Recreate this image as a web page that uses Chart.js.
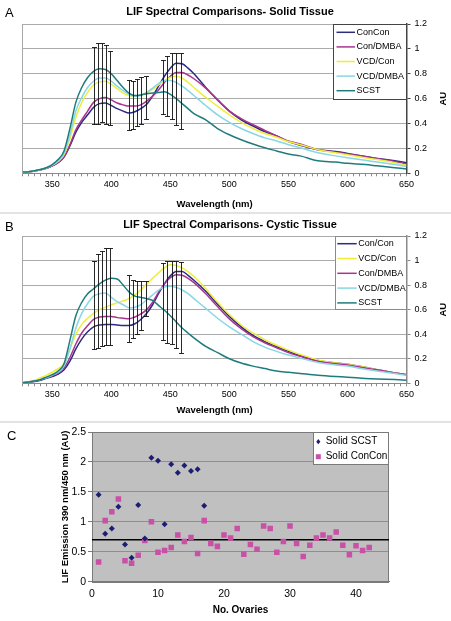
<!DOCTYPE html>
<html><head><meta charset="utf-8">
<script src="https://cdn.jsdelivr.net/npm/chart.js@4.4.1/dist/chart.umd.min.js"></script>
<style>
html,body{margin:0;padding:0;background:#fff;}
body{width:451px;height:621px;position:relative;overflow:hidden;font-family:"Liberation Sans",Arial,sans-serif;}
canvas{position:absolute;left:0;}
.letter{position:absolute;font-size:13px;color:#000;line-height:13px;}
.sep{position:absolute;left:0;width:451px;height:2px;background:#e3e3e3;}
</style></head><body>
<canvas id="cA" style="top:0px" width="451" height="212"></canvas>
<canvas id="cB" style="top:214px" width="451" height="207"></canvas>
<canvas id="cC" style="top:423px" width="451" height="198"></canvas>
<div class="sep" style="top:212px"></div>
<div class="sep" style="top:421px"></div>
<div class="letter" style="left:5px;top:6px">A</div>
<div class="letter" style="left:5px;top:220px">B</div>
<div class="letter" style="left:7px;top:429px">C</div>
<script>
// ---------- DATA ----------
const wavelengths = [325,330,335,340,345,350,355,360,365,370,375,380,385,390,395,400,405,410,415,420,425,430,435,440,445,450,455,460,465,470,480,490,500,510,520,530,540,550,560,575,590,600,615,625,640,650];

// Panel A: Solid tissue
const solidLabels = ['ConCon','Con/DMBA','VCD/Con','VCD/DMBA','SCST'];
const solidConCon  = [0.01,0.012,0.018,0.028,0.04,0.06,0.085,0.13,0.22,0.33,0.41,0.47,0.53,0.56,0.565,0.545,0.52,0.50,0.485,0.495,0.52,0.555,0.62,0.70,0.78,0.845,0.885,0.88,0.845,0.80,0.69,0.59,0.50,0.43,0.38,0.335,0.30,0.255,0.225,0.19,0.175,0.16,0.135,0.12,0.10,0.085];
const solidConDMBA = [0.01,0.012,0.018,0.028,0.04,0.06,0.088,0.135,0.23,0.35,0.43,0.50,0.57,0.60,0.61,0.59,0.565,0.55,0.54,0.54,0.55,0.58,0.62,0.67,0.73,0.78,0.81,0.81,0.79,0.76,0.685,0.59,0.50,0.44,0.39,0.345,0.30,0.26,0.235,0.19,0.17,0.155,0.135,0.12,0.095,0.075];
const solidVCDCon  = [0.01,0.013,0.02,0.03,0.043,0.065,0.095,0.15,0.28,0.45,0.57,0.65,0.71,0.735,0.74,0.715,0.68,0.645,0.625,0.62,0.63,0.645,0.675,0.71,0.745,0.77,0.78,0.765,0.73,0.69,0.61,0.54,0.47,0.41,0.36,0.32,0.29,0.255,0.23,0.19,0.165,0.15,0.125,0.11,0.085,0.065];
const solidVCDDMBA = [0.01,0.013,0.02,0.03,0.043,0.065,0.10,0.16,0.31,0.50,0.61,0.69,0.74,0.765,0.765,0.74,0.70,0.665,0.635,0.62,0.625,0.65,0.685,0.72,0.745,0.745,0.73,0.70,0.665,0.625,0.545,0.47,0.41,0.36,0.32,0.285,0.26,0.23,0.205,0.165,0.14,0.125,0.105,0.09,0.07,0.055];
const solidSCST    = [0.01,0.013,0.02,0.03,0.045,0.07,0.11,0.18,0.36,0.57,0.69,0.77,0.82,0.84,0.835,0.80,0.745,0.69,0.645,0.625,0.63,0.64,0.645,0.65,0.655,0.635,0.60,0.56,0.52,0.48,0.43,0.36,0.31,0.27,0.235,0.205,0.18,0.155,0.14,0.10,0.09,0.08,0.07,0.06,0.045,0.035];
const solidErrX  = [385,388.5,392,395.5,399,415,418.5,422,425.5,429,444,447.5,451.5,455,459];
const solidErrLo = [0.40,0.40,0.41,0.40,0.39,0.35,0.36,0.38,0.40,0.435,0.48,0.46,0.44,0.39,0.36];
const solidErrHi = [1.015,1.047,1.05,1.03,0.98,0.75,0.745,0.76,0.77,0.78,0.91,0.945,0.965,0.97,0.97];

// Panel B: Cystic tissue
const cysticLabels = ['Con/Con','VCD/Con','Con/DMBA','VCD/DMBA','SCST'];
const cysticConCon  = [0.005,0.01,0.015,0.025,0.04,0.055,0.075,0.11,0.18,0.28,0.36,0.42,0.46,0.475,0.48,0.48,0.475,0.47,0.47,0.485,0.52,0.57,0.64,0.73,0.81,0.875,0.91,0.91,0.88,0.84,0.75,0.645,0.545,0.46,0.39,0.34,0.30,0.26,0.225,0.185,0.165,0.155,0.13,0.11,0.085,0.07];
const cysticVCDCon  = [0.005,0.012,0.025,0.045,0.065,0.09,0.12,0.16,0.28,0.40,0.48,0.53,0.57,0.60,0.62,0.64,0.655,0.67,0.69,0.72,0.76,0.81,0.855,0.90,0.94,0.965,0.96,0.94,0.91,0.87,0.77,0.66,0.56,0.475,0.41,0.355,0.31,0.27,0.235,0.19,0.165,0.155,0.13,0.11,0.085,0.07];
const cysticConDMBA = [0.005,0.01,0.018,0.03,0.045,0.062,0.085,0.125,0.21,0.32,0.41,0.47,0.52,0.54,0.545,0.545,0.535,0.53,0.525,0.54,0.565,0.60,0.66,0.74,0.81,0.86,0.885,0.88,0.855,0.82,0.73,0.625,0.525,0.445,0.38,0.33,0.29,0.25,0.22,0.18,0.16,0.15,0.125,0.11,0.085,0.07];
const cysticVCDDMBA = [0.005,0.01,0.018,0.03,0.045,0.065,0.09,0.14,0.28,0.45,0.57,0.65,0.71,0.73,0.735,0.70,0.665,0.64,0.615,0.62,0.64,0.68,0.72,0.76,0.785,0.79,0.78,0.76,0.73,0.69,0.61,0.53,0.46,0.40,0.34,0.295,0.26,0.23,0.205,0.17,0.15,0.14,0.115,0.10,0.08,0.065];
const cysticSCST    = [0.005,0.01,0.018,0.03,0.05,0.07,0.10,0.16,0.35,0.55,0.66,0.73,0.77,0.81,0.84,0.855,0.85,0.80,0.745,0.71,0.70,0.69,0.675,0.635,0.595,0.55,0.50,0.45,0.41,0.37,0.30,0.25,0.20,0.165,0.14,0.12,0.10,0.09,0.08,0.065,0.055,0.05,0.04,0.035,0.03,0.025];
const cysticErrX  = [385,388.5,392,395.5,399,415,418.5,422,425.5,429,444,447.5,451.5,455,459];
const cysticErrLo = [0.28,0.29,0.30,0.31,0.31,0.34,0.37,0.40,0.435,0.55,0.35,0.33,0.32,0.285,0.245];
const cysticErrHi = [1.0,1.055,1.08,1.10,1.10,0.88,0.84,0.835,0.83,0.83,0.98,1.0,1.0,1.0,0.99];

// Panel C: 390/450 ratio per ovary
const scstOvary   = [1,2,3,4,5,6,7,8,9,10,11,12,13,14,15,16,17];
const scstRatio   = [1.45,0.80,0.89,1.25,0.62,0.40,1.28,0.72,2.07,2.02,0.96,1.96,1.82,1.94,1.85,1.88,1.27];
const conconOvary = [1,2,3,4,5,6,7,8,9,10,11,12,13,14,15,16,17,18,19,20,21,22,23,24,25,26,27,28,29,30,31,32,33,34,35,36,37,38,39,40,41,42];
const conconRatio = [0.33,1.02,1.17,1.38,0.35,0.31,0.44,0.69,1.00,0.49,0.52,0.57,0.78,0.67,0.74,0.47,1.02,0.64,0.59,0.78,0.73,0.89,0.46,0.62,0.54,0.93,0.89,0.49,0.67,0.93,0.64,0.42,0.61,0.73,0.78,0.73,0.83,0.61,0.45,0.60,0.52,0.57];
const cutoffRatio = 0.7;
const cutoffSpan  = [0, 45];

// ---------- STYLE ----------
const FONT = "'Liberation Sans', Arial, sans-serif";
Chart.defaults.font.family = FONT;
Chart.defaults.color = '#000';
const colorMap = {
  'ConCon':'#2b2b80','Con/Con':'#2b2b80','Con/DMBA':'#a8348f','VCD/Con':'#eeee3a',
  'VCD/DMBA':'#88d6e6','SCST':'#1f7c7c'
};
const numFmt = (v)=> String(Number(Number(v).toFixed(3)));

function pairs(xs, ys){ return xs.map((x,i)=>({x:x,y:ys[i]})); }

function framePlugin(fill, stroke){
  return {
    id:'frame',
    beforeDraw(chart){
      const a = chart.chartArea, ctx = chart.ctx;
      if (fill){ ctx.save(); ctx.fillStyle = fill; ctx.fillRect(a.left,a.top,a.right-a.left,a.bottom-a.top); ctx.restore(); }
    },
    beforeDatasetsDraw(chart){
      if (!stroke) return;
      const a = chart.chartArea, ctx = chart.ctx;
      ctx.save(); ctx.strokeStyle = stroke; ctx.lineWidth = 1;
      ctx.strokeRect(Math.round(a.left)+0.5, Math.round(a.top)+0.5, Math.round(a.right-a.left)-1, Math.round(a.bottom-a.top));
      ctx.restore();
    }
  };
}

function errorBarPlugin(xs, lo, hi){
  return {
    id:'errorBars',
    afterDatasetsDraw(chart){
      const sx = chart.scales.x, sy = chart.scales.y, ctx = chart.ctx;
      ctx.save(); ctx.strokeStyle = '#111'; ctx.lineWidth = 0.9;
      xs.forEach((xv,i)=>{
        const px = Math.round(sx.getPixelForValue(xv)) + 0.5;
        const p1 = Math.round(sy.getPixelForValue(lo[i])) + 0.5;
        const p2 = Math.round(sy.getPixelForValue(hi[i])) + 0.5;
        ctx.beginPath();
        ctx.moveTo(px,p1); ctx.lineTo(px,p2);
        ctx.moveTo(px-2.5,p1); ctx.lineTo(px+2.5,p1);
        ctx.moveTo(px-2.5,p2); ctx.lineTo(px+2.5,p2);
        ctx.stroke();
      });
      ctx.restore();
    }
  };
}

function rotTitlePlugin(text, x, font){
  return {
    id:'rotTitle',
    afterDraw(chart){
      const a = chart.chartArea, ctx = chart.ctx;
      ctx.save(); ctx.translate(x, (a.top+a.bottom)/2); ctx.rotate(-Math.PI/2);
      ctx.font = font; ctx.fillStyle = '#000'; ctx.textAlign = 'center'; ctx.textBaseline = 'middle';
      ctx.fillText(text, 0, 0); ctx.restore();
    }
  };
}

function boxLegendPlugin(cfg){
  return {
    id:'boxLegend',
    afterDraw(chart){
      const ctx = chart.ctx;
      ctx.save();
      ctx.fillStyle = '#fff';
      ctx.fillRect(cfg.left, cfg.top, cfg.right-cfg.left, cfg.bottom-cfg.top);
      ctx.strokeStyle = cfg.border; ctx.lineWidth = 1;
      ctx.strokeRect(cfg.left+0.5, cfg.top+0.5, cfg.right-cfg.left-1, cfg.bottom-cfg.top-1);
      ctx.font = cfg.font; ctx.textBaseline = 'middle'; ctx.textAlign = 'left';
      let row = 0;
      chart.data.datasets.forEach(ds=>{
        if (!ds.label) return;
        const y = cfg.first + row*cfg.step;
        if (cfg.kind === 'line'){
          ctx.strokeStyle = ds.borderColor; ctx.lineWidth = 1.5;
          ctx.beginPath(); ctx.moveTo(cfg.sx0, y); ctx.lineTo(cfg.sx1, y); ctx.stroke();
        } else {
          ctx.fillStyle = ds.backgroundColor;
          ctx.beginPath();
          if (ds.pointStyle === 'rectRot'){
            const r = 2.6;
            ctx.moveTo(cfg.sx0, y-r); ctx.lineTo(cfg.sx0+r*0.8, y); ctx.lineTo(cfg.sx0, y+r); ctx.lineTo(cfg.sx0-r*0.8, y);
            ctx.closePath();
          } else {
            ctx.rect(cfg.sx0-2.5, y-2.5, 5, 5);
          }
          ctx.fill();
        }
        ctx.fillStyle = '#000';
        ctx.fillText(ds.label, cfg.tx, y);
        row++;
      });
      ctx.restore();
    }
  };
}

function spectralChart(id, labels, series, errX, errLo, errHi, titleText, titlePad, xH, xTitlePadB, axisColor, legendCfg){
  const datasets = labels.map((lab,i)=>({
    label: lab,
    data: pairs(wavelengths, series[i]),
    borderColor: colorMap[lab],
    backgroundColor: colorMap[lab],
    borderWidth: 1.5,
    pointRadius: 0,
    cubicInterpolationMode: 'monotone',
    order: -i
  }));
  return new Chart(document.getElementById(id), {
    type:'line',
    data:{datasets},
    options:{
      responsive:false, animation:false, devicePixelRatio:1,
      layout:{padding:{left:9,right:0,top:0,bottom:0}},
      plugins:{
        legend:{display:false}, tooltip:{enabled:false},
        title:{display:true, text:titleText, font:{size:11, weight:'bold'}, color:'#000', padding:{top:titlePad, bottom:titlePad}}
      },
      scales:{
        x:{type:'linear', min:325, max:650,
           ticks:{stepSize:5, autoSkip:false, maxRotation:0, minRotation:0, font:{size:9}, color:'#000', padding:3,
                  callback:(v)=> (v % 50 === 0 ? String(v) : '')},
           grid:{drawOnChartArea:false, drawTicks:true, tickLength:3, tickColor:'#8a8a8a'},
           border:{color:'#8a8a8a'},
           title:{display:true, text:'Wavelength (nm)', font:{size:9.5, weight:'bold'}, color:'#000', padding:{top:0,bottom:xTitlePadB}},
           afterFit:(s)=>{ s.height = xH; }},
        y:{type:'linear', position:'right', min:0, max:1.2,
           ticks:{stepSize:0.2, font:{size:9}, color:'#000', padding:4, callback:numFmt},
           grid:{color:'#ababab', tickLength:4, tickColor:axisColor},
           border:{color:axisColor, width:1.5},
           afterFit:(s)=>{ s.width = 44.5; }},
        yL:{type:'linear', position:'left', min:0, max:1.2,
           ticks:{display:false}, grid:{drawOnChartArea:false, drawTicks:false},
           border:{color:'#a8a8a8'},
           afterFit:(s)=>{ s.width = 13.7; }}
      }
    },
    plugins:[errorBarPlugin(errX, errLo, errHi), rotTitlePlugin('AU', 443, "bold 9.5px "+FONT), boxLegendPlugin(legendCfg)]
  });
}

spectralChart('cA', solidLabels, [solidConCon, solidConDMBA, solidVCDCon, solidVCDDMBA, solidSCST],
  solidErrX, solidErrLo, solidErrHi, 'LIF Spectral Comparisons- Solid Tissue', 5.4, 38.7, 1.8, '#444',
  {left:333, top:24, right:407, bottom:100, border:'#444', font:"9px "+FONT, first:32.3, step:14.6, sx0:336.5, sx1:355, tx:356.5, kind:'line'});

spectralChart('cB', cysticLabels, [cysticConCon, cysticVCDCon, cysticConDMBA, cysticVCDDMBA, cysticSCST],
  cysticErrX, cysticErrLo, cysticErrHi, 'LIF Spectral Comparisons- Cystic Tissue', 4.4, 37.7, 4.6, '#8a8a8a',
  {left:335, top:22, right:407, bottom:96, border:'#8a8a8a', font:"9px "+FONT, first:29.7, step:14.8, sx0:337.3, sx1:356.7, tx:358.3, kind:'line'});

new Chart(document.getElementById('cC'), {
  type:'scatter',
  data:{datasets:[
    {label:'Solid SCST', data:pairs(scstOvary, scstRatio), pointStyle:'rectRot', pointRadius:3, backgroundColor:'#1d1d72', borderColor:'#1d1d72', borderWidth:0},
    {label:'Solid ConCon', data:pairs(conconOvary, conconRatio), pointStyle:'rect', pointRadius:3.9, backgroundColor:'#c851a6', borderColor:'#c851a6', borderWidth:0},
    {type:'line', data:cutoffSpan.map(x=>({x:x, y:cutoffRatio})), borderColor:'#000', borderWidth:1.5, pointRadius:0}
  ]},
  options:{
    responsive:false, animation:false, devicePixelRatio:1,
    layout:{padding:{left:55, right:62, top:9, bottom:0}},
    plugins:{legend:{display:false}, tooltip:{enabled:false}},
    scales:{
      x:{type:'linear', min:0, max:45,
         ticks:{stepSize:10, font:{size:10.5}, color:'#000', padding:6, maxRotation:0,
                callback:(v)=> (v % 10 === 0 ? String(v) : '')},
         grid:{drawOnChartArea:false, drawTicks:false},
         border:{color:'#7a7a7a'},
         title:{display:true, text:'No. Ovaries', font:{size:10, weight:'bold'}, color:'#000', padding:{top:0,bottom:4.3}},
         afterFit:(s)=>{ s.height = 39.3; }},
      y:{type:'linear', min:0, max:2.5,
         ticks:{stepSize:0.5, font:{size:10.5}, color:'#000', padding:2, callback:numFmt},
         grid:{color:'#8e8e8e', tickLength:4, tickColor:'#7a7a7a'},
         border:{color:'#7a7a7a'},
         title:{display:true, text:'LIF Emission 390 nm/450 nm (AU)', font:{size:9.5, weight:'bold'}, color:'#000', padding:{top:5,bottom:0}},
         afterFit:(s)=>{ s.width = 37; }}
    }
  },
  plugins:[framePlugin('#c0c0c0', '#7a7a7a'),
    boxLegendPlugin({left:313, top:9, right:389, bottom:42, border:'#7a7a7a', font:"10px "+FONT, first:18.7, step:15, sx0:318.3, tx:325.7, kind:'point'})]
});
</script>
</body></html>
